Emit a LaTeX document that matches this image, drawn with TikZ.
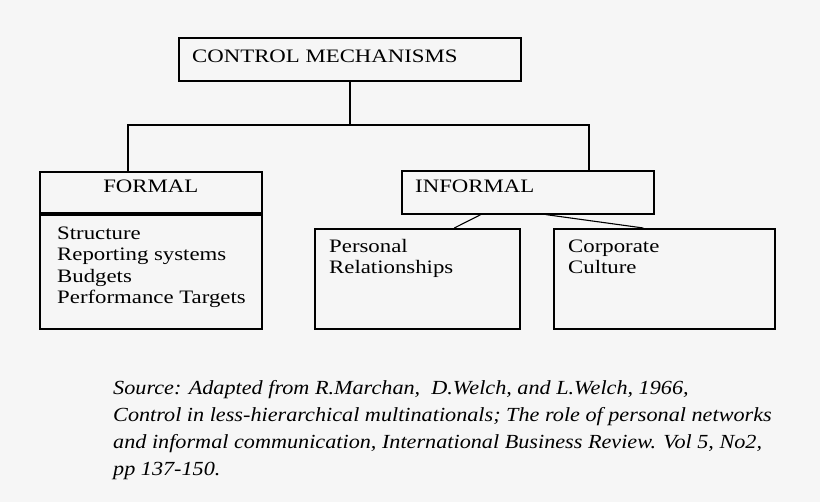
\documentclass[tikz,border=0pt]{standalone}
\usepackage{fontspec}
\setmainfont{Liberation Serif}
\newfontfamily\boxfont[FakeStretch=1.2]{Liberation Serif}
\newfontfamily\notefont[FakeStretch=1.11,ItalicFont={Liberation Serif Italic}]{Liberation Serif}
\definecolor{paper}{RGB}{246,246,246}
\begin{document}
\begin{tikzpicture}[x=1pt,y=-1pt,
  box/.style={draw=black,line width=1.6pt,rectangle,inner sep=0pt,anchor=north west},
  boxtext/.style={font=\boxfont\fontsize{19}{21.5}\selectfont,inner sep=0pt,anchor=base west,align=left},
  link/.style={draw=black,line width=1.8pt},
  thin/.style={draw=black,line width=1.1pt},
  note/.style={font=\notefont\itshape\fontsize{20}{27.3}\selectfont,inner sep=0pt,anchor=base west,align=left}]
  % canvas
  \fill[paper] (0,0) rectangle (820,502);
  \useasboundingbox (0,0) rectangle (820,502);

  % boxes
  \node[box,minimum width=342pt,minimum height=43pt] (cm) at (178,37) {};
  \node[box,minimum width=222pt,minimum height=43pt] (formalhead) at (39,171) {};
  \node[box,minimum width=222pt,minimum height=114pt] (formalbody) at (39,214) {};
  \node[box,minimum width=252pt,minimum height=43pt] (informal) at (401,170) {};
  \node[box,minimum width=205pt,minimum height=100pt] (personal) at (314,228) {};
  \node[box,minimum width=221pt,minimum height=100pt] (corporate) at (553,228) {};

  % heavier rule between the FORMAL heading and its list
  \draw[line width=3pt] (formalbody.north west) -- (formalbody.north east);

  % box texts (multi-line nodes are placed by the baseline of their last line)
  \node[boxtext] (cmtext) at ([shift={(14,26)}]cm.north west) {CONTROL MECHANISMS};
  \node[boxtext,anchor=base] (formaltext) at ([shift={(0,22)}]formalhead.north) {FORMAL};
  \node[boxtext] (formallist) at ([shift={(18,90)}]formalbody.north west)
    {Structure\\Reporting systems\\Budgets\\Performance Targets};
  \node[boxtext] (informaltext) at ([shift={(14,23)}]informal.north west) {INFORMAL};
  \node[boxtext] (personaltext) at ([shift={(15,46)}]personal.north west) {Personal\\Relationships};
  \node[boxtext] (corporatetext) at ([shift={(15,46)}]corporate.north west) {Corporate\\Culture};

  % tree connectors
  \coordinate (bus) at (cm.south |- 0,125);
  \draw[link] (cm.south) -- (bus);
  \draw[link] ([xshift=-23]formalhead.north) |- (bus) -| ([xshift=61]informal.north);
  \draw[thin] ([xshift=-47]informal.south) -- ([xshift=37]personal.north);
  \draw[thin] ([xshift=18]informal.south) -- ([xshift=-21]corporate.north);

  % source note
  \node[note] (source) at (113,476)
    {Source: Adapted from R.Marchan,\ \ D.Welch, and L.Welch, 1966,\\
     Control in less-hierarchical multinationals; The role of personal networks\\
     and informal communication, International Business Review. Vol 5, No2,\\
     pp 137-150.};
\end{tikzpicture}
\end{document}
